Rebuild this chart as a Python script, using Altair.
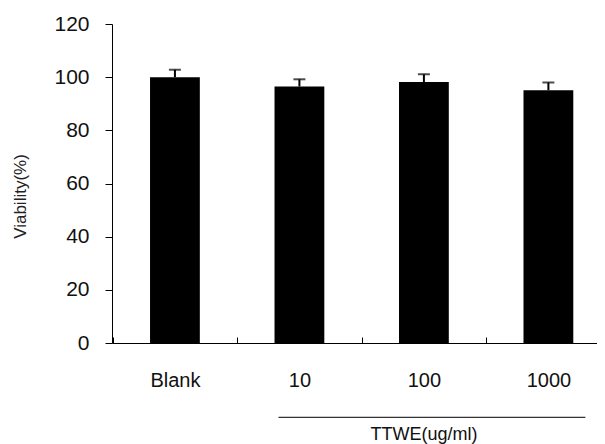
import altair as alt
import pandas as pd

categories = ["Blank", "10", "100", "1000"]
viability = [100.0, 96.5, 98.2, 95.1]
sd = [2.8, 2.7, 2.9, 2.9]
y_ticks = [0, 20, 40, 60, 80, 100, 120]
group_label = ["TTWE(ug/ml)"]
group_start = ["10"]
group_end = ["1000"]
group_mid = ["100"]
group_line_y = [-28]
group_text_y = [-34.5]

FONT = "Liberation Sans"

df = pd.DataFrame({"cat": categories, "v": viability, "sd": sd})
df["top"] = df["v"] + df["sd"]

ann = pd.DataFrame({"start": group_start, "end": group_end, "mid": group_mid,
                    "label": group_label, "ly": group_line_y, "ty": group_text_y})

W = 485
P_IN, P_OUT, ALIGN = 0.6, 0.248, 0.616
STEP = W / (len(categories) - P_IN + 2 * P_OUT)

xscale = alt.Scale(domain=categories, paddingInner=P_IN, paddingOuter=P_OUT, align=ALIGN)
yscale = alt.Scale(domain=[0, 120], nice=False)

yaxis = alt.Axis(values=y_ticks, title="Viability(%)", grid=False,
                 tickSize=7, tickColor="black", domainColor="black",
                 labelFontSize=21, labelFont=FONT, labelColor="#111", labelPadding=16,
                 titleFontSize=17, titleFont=FONT, titleFontWeight="normal", titleColor="#222",
                 titleAngle=270, titleX=-92, titleY=172, titleAlign="center", titleBaseline="middle")

xaxis = alt.Axis(orient="bottom", title=None, ticks=True, bandPosition=0,
                 tickOffset=-STEP * P_IN / 2,
                 labelOffset=STEP * P_IN / 2,
                 tickSize=alt.ExprRef("-6"), tickWidth=1, tickColor="black", labelAngle=0,
                 labelFontSize=20, labelFont=FONT, labelColor="#111",
                 labelPadding=33, domainColor="black", grid=False)

bars = alt.Chart(df).mark_bar(color="black").encode(
    x=alt.X("cat:N", scale=xscale, sort=categories, axis=xaxis),
    y=alt.Y("v:Q", scale=yscale, axis=yaxis),
)

err = alt.Chart(df).mark_rule(color="black", strokeWidth=2).encode(
    x=alt.X("cat:N", scale=xscale, sort=categories, axis=xaxis),
    y=alt.Y("v:Q", scale=yscale, axis=yaxis),
    y2="top:Q",
)

caps = alt.Chart(df).mark_tick(color="black", size=12, thickness=2).encode(
    x=alt.X("cat:N", scale=xscale, sort=categories, axis=xaxis),
    y=alt.Y("top:Q", scale=yscale, axis=yaxis),
)

ann_rule = alt.Chart(ann).mark_rule(color="#333", strokeWidth=1.2, x2Offset=37, xOffset=4).encode(
    x=alt.X("start:N", scale=xscale, axis=xaxis, bandPosition=0),
    x2="end:N",
    y=alt.Y("ly:Q", scale=yscale, axis=yaxis),
)

ann_text = alt.Chart(ann).mark_text(font=FONT, fontSize=18, color="#111", baseline="middle").encode(
    x=alt.X("mid:N", scale=xscale, axis=xaxis),
    y=alt.Y("ty:Q", scale=yscale, axis=yaxis),
    text="label:N",
)

chart = alt.layer(bars, err, caps, ann_rule, ann_text).properties(
    width=W, height=319,
    autosize=alt.AutoSizeParams(type="none"),
    padding={"left": 104, "top": 16, "right": 0, "bottom": 103},
    background="white",
).configure_view(stroke=None)

chart.save("out.html", embed_options={"renderer": "svg", "actions": False})
